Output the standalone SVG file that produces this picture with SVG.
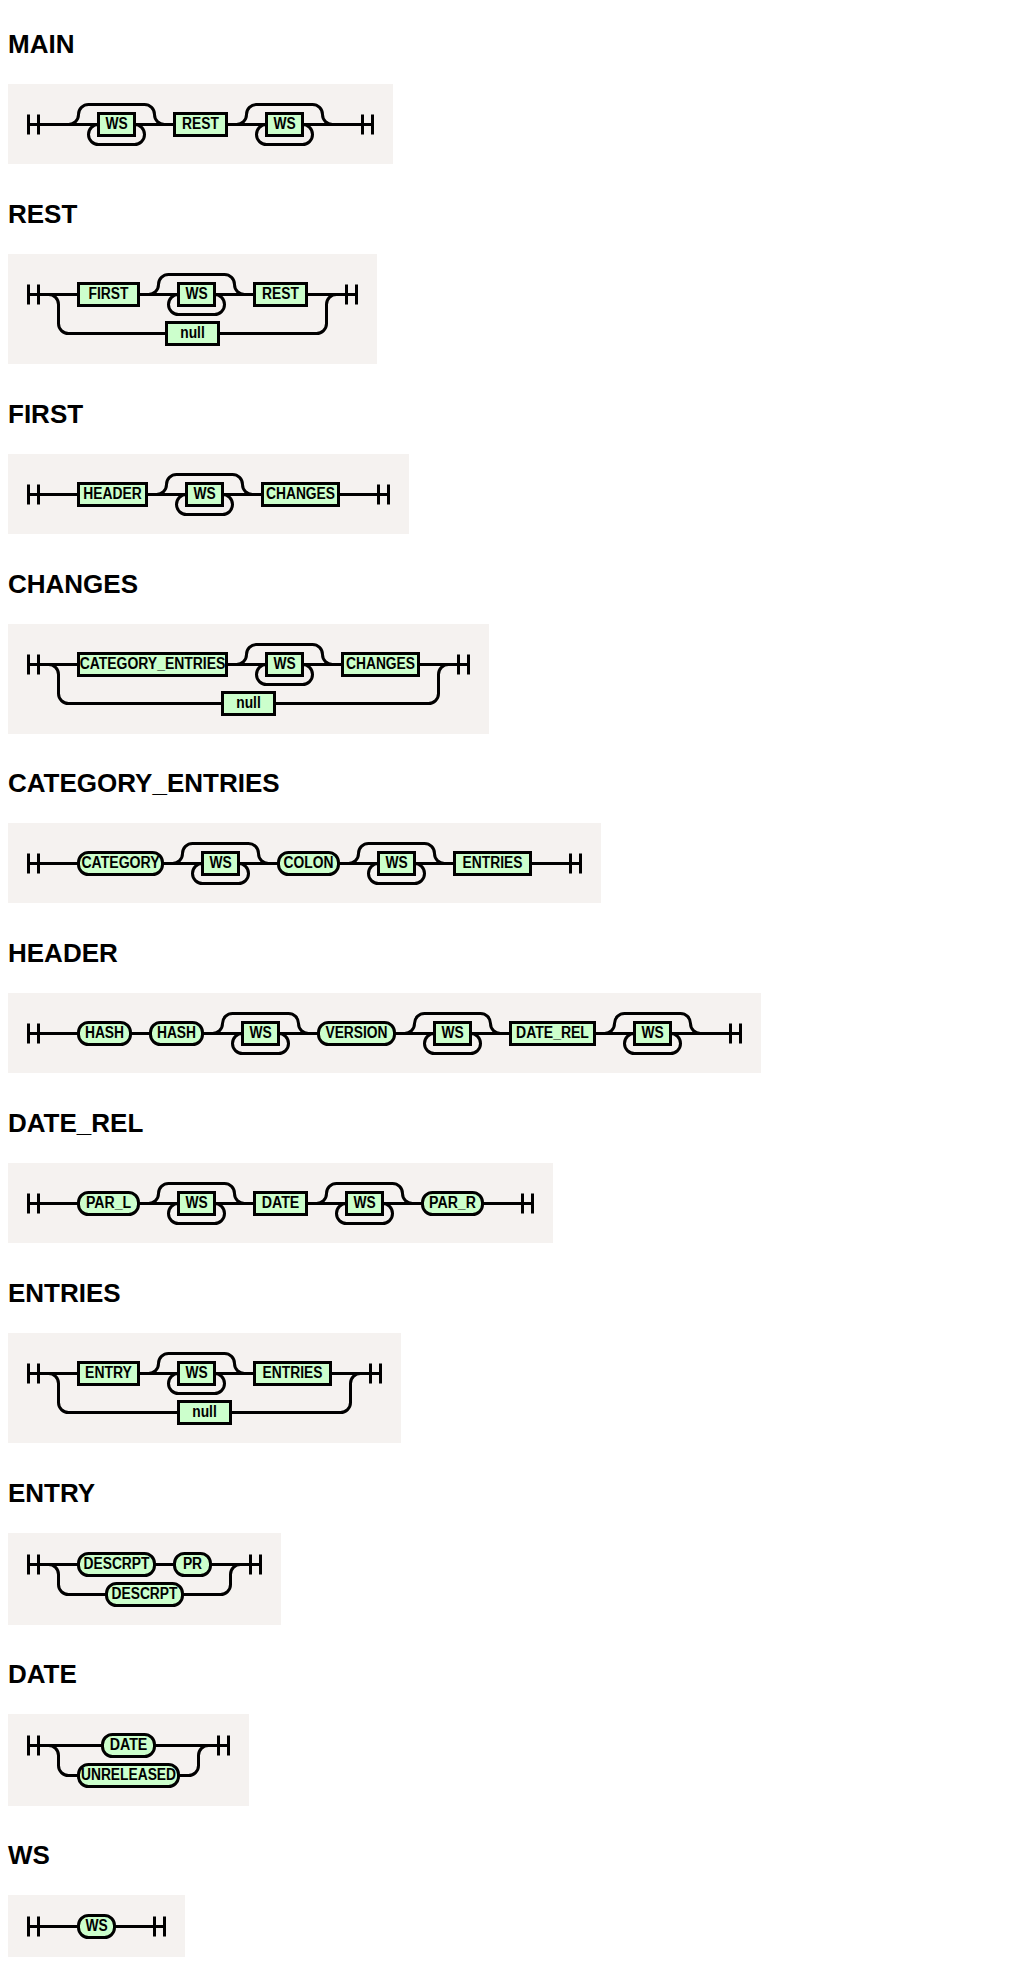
<svg xmlns="http://www.w3.org/2000/svg" width="1024" height="1971" viewBox="0 0 1024 1971">
<style>
.bg{fill:#f5f2f0}
.ttl{font-family:"Liberation Sans",Arial,sans-serif;font-weight:bold;font-size:26px;fill:#000}
.conn path{fill:none;stroke:#000;stroke-width:3}
.nt rect,.tm rect{fill:#ccffcc;stroke:#000;stroke-width:3}
.tm rect{rx:10px;ry:10px}
.nt text,.tm text{font-family:"Liberation Sans",Arial,sans-serif;font-weight:bold;font-size:16px;text-anchor:middle;fill:#000}
</style>
<rect width="1024" height="1971" fill="#fff"/>

<!-- MAIN -->
<g id="d-main">
<text class="ttl" x="8" y="52.7">MAIN</text>
<rect class="bg" x="8" y="84" width="385" height="80"/>
<g transform="translate(8.5 84.5)">
<g class="conn">
<path d="M20 30v20m10 -20v20m-10 -10h70M126 40h40M218 40h40M294 40h70m-10 -10v20m10 -20v20"/>
<path d="M60 40a10 10 0 0 0 10 -10a10 10 0 0 1 10 -10h56a10 10 0 0 1 10 10a10 10 0 0 0 10 10"/>
<path d="M90 40a10 10 0 0 0 -10 10a10 10 0 0 0 10 10h36a10 10 0 0 0 10 -10a10 10 0 0 0 -10 -10"/>
<path d="M228 40a10 10 0 0 0 10 -10a10 10 0 0 1 10 -10h56a10 10 0 0 1 10 10a10 10 0 0 0 10 10"/>
<path d="M258 40a10 10 0 0 0 -10 10a10 10 0 0 0 10 10h36a10 10 0 0 0 10 -10a10 10 0 0 0 -10 -10"/>
</g>
<g id="main-ws1" class="nt"><rect x="90" y="29" width="36" height="22"/><text x="108" y="44" textLength="22.2" lengthAdjust="spacingAndGlyphs">WS</text></g>
<g id="main-rest" class="nt"><rect x="166" y="29" width="52" height="22"/><text x="192" y="44" textLength="36.8" lengthAdjust="spacingAndGlyphs">REST</text></g>
<g id="main-ws2" class="nt"><rect x="258" y="29" width="36" height="22"/><text x="276" y="44" textLength="22.2" lengthAdjust="spacingAndGlyphs">WS</text></g>
</g>
</g>

<!-- REST -->
<g id="d-rest">
<text class="ttl" x="8" y="222.7">REST</text>
<rect class="bg" x="8" y="254" width="369" height="110"/>
<g transform="translate(8.5 254.5)">
<g class="conn">
<path d="M20 30v20m10 -20v20m-10 -10h50M130 40h40M206 40h40M298 40h50m-10 -10v20m10 -20v20"/>
<path d="M140 40a10 10 0 0 0 10 -10a10 10 0 0 1 10 -10h56a10 10 0 0 1 10 10a10 10 0 0 0 10 10"/>
<path d="M170 40a10 10 0 0 0 -10 10a10 10 0 0 0 10 10h36a10 10 0 0 0 10 -10a10 10 0 0 0 -10 -10"/>
<path d="M40 40a10 10 0 0 1 10 10v19a10 10 0 0 0 10 10h98M210 79h98a10 10 0 0 0 10 -10v-19a10 10 0 0 1 10 -10"/>
</g>
<g id="rest-first" class="nt"><rect x="70" y="29" width="60" height="22"/><text x="100" y="44" textLength="39.9" lengthAdjust="spacingAndGlyphs">FIRST</text></g>
<g id="rest-ws" class="nt"><rect x="170" y="29" width="36" height="22"/><text x="188" y="44" textLength="22.2" lengthAdjust="spacingAndGlyphs">WS</text></g>
<g id="rest-rest" class="nt"><rect x="246" y="29" width="52" height="22"/><text x="272" y="44" textLength="36.8" lengthAdjust="spacingAndGlyphs">REST</text></g>
<g id="rest-null" class="nt"><rect x="158" y="68" width="52" height="22"/><text x="184" y="83" textLength="24.5" lengthAdjust="spacingAndGlyphs">null</text></g>
</g>
</g>

<!-- FIRST -->
<g id="d-first">
<text class="ttl" x="8" y="422.7">FIRST</text>
<rect class="bg" x="8" y="454" width="401" height="80"/>
<g transform="translate(8.5 454.5)">
<g class="conn">
<path d="M20 30v20m10 -20v20m-10 -10h50M138 40h40M214 40h40M330 40h50m-10 -10v20m10 -20v20"/>
<path d="M148 40a10 10 0 0 0 10 -10a10 10 0 0 1 10 -10h56a10 10 0 0 1 10 10a10 10 0 0 0 10 10"/>
<path d="M178 40a10 10 0 0 0 -10 10a10 10 0 0 0 10 10h36a10 10 0 0 0 10 -10a10 10 0 0 0 -10 -10"/>
</g>
<g id="first-header" class="nt"><rect x="70" y="29" width="68" height="22"/><text x="104" y="44" textLength="58.3" lengthAdjust="spacingAndGlyphs">HEADER</text></g>
<g id="first-ws" class="nt"><rect x="178" y="29" width="36" height="22"/><text x="196" y="44" textLength="22.2" lengthAdjust="spacingAndGlyphs">WS</text></g>
<g id="first-changes" class="nt"><rect x="254" y="29" width="76" height="22"/><text x="292" y="44" textLength="69" lengthAdjust="spacingAndGlyphs">CHANGES</text></g>
</g>
</g>

<!-- CHANGES -->
<g id="d-changes">
<text class="ttl" x="8" y="592.7">CHANGES</text>
<rect class="bg" x="8" y="624" width="481" height="110"/>
<g transform="translate(8.5 624.5)">
<g class="conn">
<path d="M20 30v20m10 -20v20m-10 -10h50M218 40h40M294 40h40M410 40h50m-10 -10v20m10 -20v20"/>
<path d="M228 40a10 10 0 0 0 10 -10a10 10 0 0 1 10 -10h56a10 10 0 0 1 10 10a10 10 0 0 0 10 10"/>
<path d="M258 40a10 10 0 0 0 -10 10a10 10 0 0 0 10 10h36a10 10 0 0 0 10 -10a10 10 0 0 0 -10 -10"/>
<path d="M40 40a10 10 0 0 1 10 10v19a10 10 0 0 0 10 10h154M266 79h154a10 10 0 0 0 10 -10v-19a10 10 0 0 1 10 -10"/>
</g>
<g id="changes-ce" class="nt"><rect x="70" y="29" width="148" height="22"/><text x="144" y="44" textLength="145.7" lengthAdjust="spacingAndGlyphs">CATEGORY_ENTRIES</text></g>
<g id="changes-ws" class="nt"><rect x="258" y="29" width="36" height="22"/><text x="276" y="44" textLength="22.2" lengthAdjust="spacingAndGlyphs">WS</text></g>
<g id="changes-changes" class="nt"><rect x="334" y="29" width="76" height="22"/><text x="372" y="44" textLength="69" lengthAdjust="spacingAndGlyphs">CHANGES</text></g>
<g id="changes-null" class="nt"><rect x="214" y="68" width="52" height="22"/><text x="240" y="83" textLength="24.5" lengthAdjust="spacingAndGlyphs">null</text></g>
</g>
</g>

<!-- CATEGORY_ENTRIES -->
<g id="d-category-entries">
<text class="ttl" x="8" y="791.7">CATEGORY_ENTRIES</text>
<rect class="bg" x="8" y="823" width="593" height="80"/>
<g transform="translate(8.5 823.5)">
<g class="conn">
<path d="M20 30v20m10 -20v20m-10 -10h50M154 40h40M230 40h40M330 40h40M406 40h40M522 40h50m-10 -10v20m10 -20v20"/>
<path d="M164 40a10 10 0 0 0 10 -10a10 10 0 0 1 10 -10h56a10 10 0 0 1 10 10a10 10 0 0 0 10 10"/>
<path d="M194 40a10 10 0 0 0 -10 10a10 10 0 0 0 10 10h36a10 10 0 0 0 10 -10a10 10 0 0 0 -10 -10"/>
<path d="M340 40a10 10 0 0 0 10 -10a10 10 0 0 1 10 -10h56a10 10 0 0 1 10 10a10 10 0 0 0 10 10"/>
<path d="M370 40a10 10 0 0 0 -10 10a10 10 0 0 0 10 10h36a10 10 0 0 0 10 -10a10 10 0 0 0 -10 -10"/>
</g>
<g id="ce-category" class="tm"><rect x="70" y="29" width="84" height="22"/><text x="112" y="44" textLength="78.2" lengthAdjust="spacingAndGlyphs">CATEGORY</text></g>
<g id="ce-ws1" class="nt"><rect x="194" y="29" width="36" height="22"/><text x="212" y="44" textLength="22.2" lengthAdjust="spacingAndGlyphs">WS</text></g>
<g id="ce-colon" class="tm"><rect x="270" y="29" width="60" height="22"/><text x="300" y="44" textLength="49.8" lengthAdjust="spacingAndGlyphs">COLON</text></g>
<g id="ce-ws2" class="nt"><rect x="370" y="29" width="36" height="22"/><text x="388" y="44" textLength="22.2" lengthAdjust="spacingAndGlyphs">WS</text></g>
<g id="ce-entries" class="nt"><rect x="446" y="29" width="76" height="22"/><text x="484" y="44" textLength="59.8" lengthAdjust="spacingAndGlyphs">ENTRIES</text></g>
</g>
</g>

<!-- HEADER -->
<g id="d-header">
<text class="ttl" x="8" y="961.7">HEADER</text>
<rect class="bg" x="8" y="993" width="753" height="80"/>
<g transform="translate(8.5 993.5)">
<g class="conn">
<path d="M20 30v20m10 -20v20m-10 -10h50M122 40h20M194 40h40M270 40h40M386 40h40M462 40h40M586 40h40M662 40h70m-10 -10v20m10 -20v20"/>
<path d="M204 40a10 10 0 0 0 10 -10a10 10 0 0 1 10 -10h56a10 10 0 0 1 10 10a10 10 0 0 0 10 10"/>
<path d="M234 40a10 10 0 0 0 -10 10a10 10 0 0 0 10 10h36a10 10 0 0 0 10 -10a10 10 0 0 0 -10 -10"/>
<path d="M396 40a10 10 0 0 0 10 -10a10 10 0 0 1 10 -10h56a10 10 0 0 1 10 10a10 10 0 0 0 10 10"/>
<path d="M426 40a10 10 0 0 0 -10 10a10 10 0 0 0 10 10h36a10 10 0 0 0 10 -10a10 10 0 0 0 -10 -10"/>
<path d="M596 40a10 10 0 0 0 10 -10a10 10 0 0 1 10 -10h56a10 10 0 0 1 10 10a10 10 0 0 0 10 10"/>
<path d="M626 40a10 10 0 0 0 -10 10a10 10 0 0 0 10 10h36a10 10 0 0 0 10 -10a10 10 0 0 0 -10 -10"/>
</g>
<g id="header-hash1" class="tm"><rect x="70" y="29" width="52" height="22"/><text x="96" y="44" textLength="39.1" lengthAdjust="spacingAndGlyphs">HASH</text></g>
<g id="header-hash2" class="tm"><rect x="142" y="29" width="52" height="22"/><text x="168" y="44" textLength="39.1" lengthAdjust="spacingAndGlyphs">HASH</text></g>
<g id="header-ws1" class="nt"><rect x="234" y="29" width="36" height="22"/><text x="252" y="44" textLength="22.2" lengthAdjust="spacingAndGlyphs">WS</text></g>
<g id="header-version" class="tm"><rect x="310" y="29" width="76" height="22"/><text x="348" y="44" textLength="62.1" lengthAdjust="spacingAndGlyphs">VERSION</text></g>
<g id="header-ws2" class="nt"><rect x="426" y="29" width="36" height="22"/><text x="444" y="44" textLength="22.2" lengthAdjust="spacingAndGlyphs">WS</text></g>
<g id="header-daterel" class="nt"><rect x="502" y="29" width="84" height="22"/><text x="544" y="44" textLength="72.8" lengthAdjust="spacingAndGlyphs">DATE_REL</text></g>
<g id="header-ws3" class="nt"><rect x="626" y="29" width="36" height="22"/><text x="644" y="44" textLength="22.2" lengthAdjust="spacingAndGlyphs">WS</text></g>
</g>
</g>

<!-- DATE_REL -->
<g id="d-date-rel">
<text class="ttl" x="8" y="1131.7">DATE_REL</text>
<rect class="bg" x="8" y="1163" width="545" height="80"/>
<g transform="translate(8.5 1163.5)">
<g class="conn">
<path d="M20 30v20m10 -20v20m-10 -10h50M130 40h40M206 40h40M298 40h40M374 40h40M474 40h50m-10 -10v20m10 -20v20"/>
<path d="M140 40a10 10 0 0 0 10 -10a10 10 0 0 1 10 -10h56a10 10 0 0 1 10 10a10 10 0 0 0 10 10"/>
<path d="M170 40a10 10 0 0 0 -10 10a10 10 0 0 0 10 10h36a10 10 0 0 0 10 -10a10 10 0 0 0 -10 -10"/>
<path d="M308 40a10 10 0 0 0 10 -10a10 10 0 0 1 10 -10h56a10 10 0 0 1 10 10a10 10 0 0 0 10 10"/>
<path d="M338 40a10 10 0 0 0 -10 10a10 10 0 0 0 10 10h36a10 10 0 0 0 10 -10a10 10 0 0 0 -10 -10"/>
</g>
<g id="dr-parl" class="tm"><rect x="70" y="29" width="60" height="22"/><text x="100" y="44" textLength="45.2" lengthAdjust="spacingAndGlyphs">PAR_L</text></g>
<g id="dr-ws1" class="nt"><rect x="170" y="29" width="36" height="22"/><text x="188" y="44" textLength="22.2" lengthAdjust="spacingAndGlyphs">WS</text></g>
<g id="dr-date" class="nt"><rect x="246" y="29" width="52" height="22"/><text x="272" y="44" textLength="37.6" lengthAdjust="spacingAndGlyphs">DATE</text></g>
<g id="dr-ws2" class="nt"><rect x="338" y="29" width="36" height="22"/><text x="356" y="44" textLength="22.2" lengthAdjust="spacingAndGlyphs">WS</text></g>
<g id="dr-parr" class="tm"><rect x="414" y="29" width="60" height="22"/><text x="444" y="44" textLength="46.8" lengthAdjust="spacingAndGlyphs">PAR_R</text></g>
</g>
</g>

<!-- ENTRIES -->
<g id="d-entries">
<text class="ttl" x="8" y="1301.7">ENTRIES</text>
<rect class="bg" x="8" y="1333" width="393" height="110"/>
<g transform="translate(8.5 1333.5)">
<g class="conn">
<path d="M20 30v20m10 -20v20m-10 -10h50M130 40h40M206 40h40M322 40h50m-10 -10v20m10 -20v20"/>
<path d="M140 40a10 10 0 0 0 10 -10a10 10 0 0 1 10 -10h56a10 10 0 0 1 10 10a10 10 0 0 0 10 10"/>
<path d="M170 40a10 10 0 0 0 -10 10a10 10 0 0 0 10 10h36a10 10 0 0 0 10 -10a10 10 0 0 0 -10 -10"/>
<path d="M40 40a10 10 0 0 1 10 10v19a10 10 0 0 0 10 10h110M222 79h110a10 10 0 0 0 10 -10v-19a10 10 0 0 1 10 -10"/>
</g>
<g id="entries-entry" class="nt"><rect x="70" y="29" width="60" height="22"/><text x="100" y="44" textLength="46.8" lengthAdjust="spacingAndGlyphs">ENTRY</text></g>
<g id="entries-ws" class="nt"><rect x="170" y="29" width="36" height="22"/><text x="188" y="44" textLength="22.2" lengthAdjust="spacingAndGlyphs">WS</text></g>
<g id="entries-entries" class="nt"><rect x="246" y="29" width="76" height="22"/><text x="284" y="44" textLength="59.8" lengthAdjust="spacingAndGlyphs">ENTRIES</text></g>
<g id="entries-null" class="nt"><rect x="170" y="68" width="52" height="22"/><text x="196" y="83" textLength="24.5" lengthAdjust="spacingAndGlyphs">null</text></g>
</g>
</g>

<!-- ENTRY -->
<g id="d-entry">
<text class="ttl" x="8" y="1501.7">ENTRY</text>
<rect class="bg" x="8" y="1533" width="273" height="92"/>
<g transform="translate(8.5 1533.5)">
<g class="conn">
<path d="M20 21v20m10 -20v20m-10 -10h50M146 31h20M202 31h50m-10 -10v20m10 -20v20"/>
<path d="M40 31a10 10 0 0 1 10 10v10a10 10 0 0 0 10 10h38M174 61h38a10 10 0 0 0 10 -10v-10a10 10 0 0 1 10 -10"/>
</g>
<g id="entry-descrpt1" class="tm"><rect x="70" y="20" width="76" height="22"/><text x="108" y="35" textLength="65.9" lengthAdjust="spacingAndGlyphs">DESCRPT</text></g>
<g id="entry-pr" class="tm"><rect x="166" y="20" width="36" height="22"/><text x="184" y="35" textLength="19.2" lengthAdjust="spacingAndGlyphs">PR</text></g>
<g id="entry-descrpt2" class="tm"><rect x="98" y="50" width="76" height="22"/><text x="136" y="65" textLength="65.9" lengthAdjust="spacingAndGlyphs">DESCRPT</text></g>
</g>
</g>

<!-- DATE -->
<g id="d-date">
<text class="ttl" x="8" y="1682.7">DATE</text>
<rect class="bg" x="8" y="1714" width="241" height="92"/>
<g transform="translate(8.5 1714.5)">
<g class="conn">
<path d="M20 21v20m10 -20v20m-10 -10h74M146 31h74m-10 -10v20m10 -20v20"/>
<path d="M40 31a10 10 0 0 1 10 10v10a10 10 0 0 0 10 10h10M170 61h10a10 10 0 0 0 10 -10v-10a10 10 0 0 1 10 -10"/>
</g>
<g id="date-date" class="tm"><rect x="94" y="20" width="52" height="22"/><text x="120" y="35" textLength="37.6" lengthAdjust="spacingAndGlyphs">DATE</text></g>
<g id="date-unreleased" class="tm"><rect x="70" y="50" width="100" height="22"/><text x="120" y="65" textLength="95.1" lengthAdjust="spacingAndGlyphs">UNRELEASED</text></g>
</g>
</g>

<!-- WS -->
<g id="d-ws">
<text class="ttl" x="8" y="1863.7">WS</text>
<rect class="bg" x="8" y="1895" width="177" height="62"/>
<g transform="translate(8.5 1895.5)">
<g class="conn">
<path d="M20 21v20m10 -20v20m-10 -10h50M106 31h50m-10 -10v20m10 -20v20"/>
</g>
<g id="ws-ws" class="tm"><rect x="70" y="20" width="36" height="22"/><text x="88" y="35" textLength="22.2" lengthAdjust="spacingAndGlyphs">WS</text></g>
</g>
</g>
</svg>
